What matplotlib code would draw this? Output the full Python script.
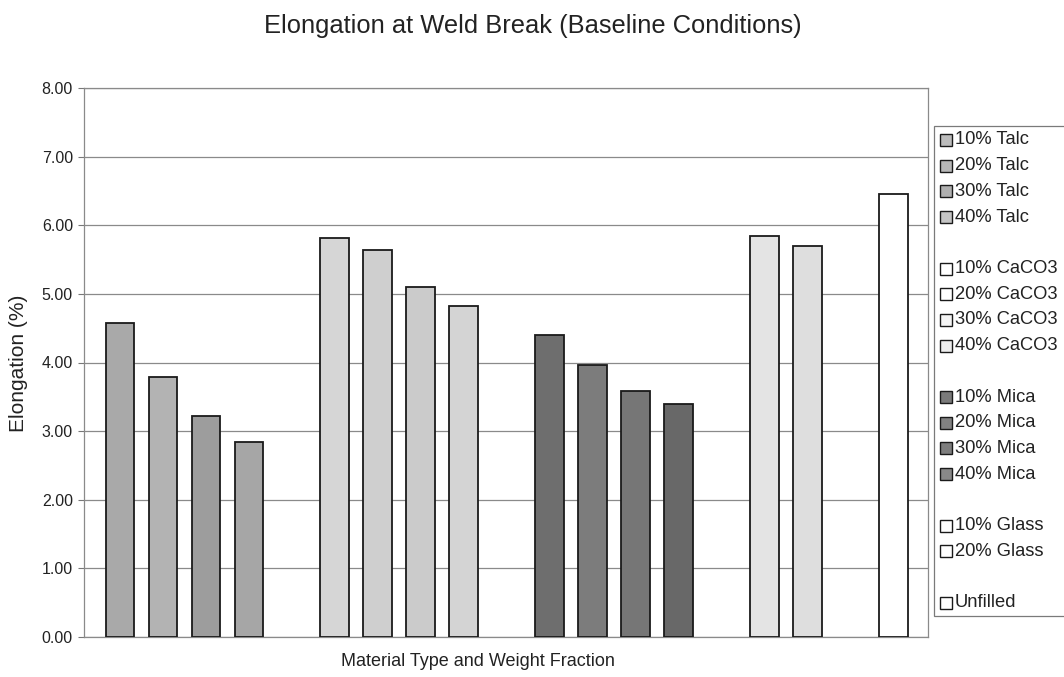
import matplotlib
matplotlib.use("Agg")
import matplotlib.pyplot as plt
from matplotlib.patches import Rectangle

plt.rcParams['font.family'] = ['Liberation Sans', 'DejaVu Sans']

# ---- data ----
groups = ["Talc", "CaCO3", "Mica", "Glass", "Unfilled"]
talc_labels = ["10% Talc", "20% Talc", "30% Talc", "40% Talc"]
talc_values = [4.58, 3.79, 3.22, 2.84]
caco3_labels = ["10% CaCO3", "20% CaCO3", "30% CaCO3", "40% CaCO3"]
caco3_values = [5.82, 5.64, 5.10, 4.83]
mica_labels = ["10% Mica", "20% Mica", "30% Mica", "40% Mica"]
mica_values = [4.40, 3.97, 3.59, 3.39]
glass_labels = ["10% Glass", "20% Glass"]
glass_values = [5.85, 5.70]
unfilled_labels = ["Unfilled"]
unfilled_values = [6.45]

yticks = [0, 1, 2, 3, 4, 5, 6, 7, 8]
title = "Elongation at Weld Break (Baseline Conditions)"
xlabel = "Material Type and Weight Fraction"
ylabel = "Elongation (%)"

# ---- styles ----
colors = {
    "Talc": ["#a9a9a9", "#b3b3b3", "#9d9d9d", "#a6a6a6"],
    "CaCO3": ["#d6d6d6", "#cfcfcf", "#cbcbcb", "#d4d4d4"],
    "Mica": ["#6e6e6e", "#7c7c7c", "#767676", "#686868"],
    "Glass": ["#e4e4e4", "#dedede"],
    "Unfilled": ["#ffffff"],
}
legend_colors = {
    "Talc": ["#bcbcbc", "#b8b8b8", "#b0b0b0", "#c4c4c4"],
    "CaCO3": ["#ffffff", "#ffffff", "#f4f4f4", "#eeeeee"],
    "Mica": ["#7a7a7a", "#828282", "#7e7e7e", "#888888"],
    "Glass": ["#ffffff", "#ffffff"],
    "Unfilled": ["#ffffff"],
}

all_labels = [talc_labels, caco3_labels, mica_labels, glass_labels, unfilled_labels]
all_values = [talc_values, caco3_values, mica_values, glass_values, unfilled_values]

W, H = 1064, 677
fig = plt.figure(figsize=(W / 100, H / 100), dpi=100)
ax = fig.add_axes([84 / W, 1 - 637 / H, (928 - 84) / W, (637 - 88) / H])

pos = 0
for g, labs, vals in zip(groups, all_labels, all_values):
    xs = list(range(pos, pos + len(vals)))
    ax.bar(xs, vals, width=0.67, color=colors[g], edgecolor="#1a1a1a",
           linewidth=1.3, zorder=3)
    pos += len(vals) + 1

ax.set_xlim(-0.84, 18.81)
ax.set_ylim(0, 8)
ax.set_yticks(yticks)
ax.set_yticklabels([f"{v:.2f}" for v in yticks], fontsize=11.5, color="#222222")
ax.set_xticks([])
ax.tick_params(axis="y", length=4, width=0.8, color="#777777", pad=4)
ax.yaxis.grid(True, color="#8a8a8a", linewidth=0.9, zorder=0)
for s in ax.spines.values():
    s.set_color("#8a8a8a")
    s.set_linewidth(0.9)

fig.text(533 / W, 1 - 26 / H, title, ha="center", va="center", fontsize=18.4,
         color="#222222")
fig.text(478 / W, 1 - 662 / H, xlabel, ha="center", va="center", fontsize=13,
         color="#222222")
fig.text(19 / W, 1 - 363 / H, ylabel, ha="center", va="center", fontsize=15,
         rotation=90, color="#222222")

# ---- legend drawn manually ----
fig.patches.append(Rectangle((934 / W, 1 - 616 / H), 140 / W, (616 - 126) / H,
                             transform=fig.transFigure, facecolor="white",
                             edgecolor="#7a7a7a", linewidth=0.9, zorder=5))
row_h = 25.7
row = 0
for g, labs in zip(groups, all_labels):
    for j, lab in enumerate(labs):
        yc = 140 + row * row_h
        fig.patches.append(Rectangle((940 / W, 1 - (yc + 6) / H), 12 / W, 12 / H,
                                     transform=fig.transFigure,
                                     facecolor=legend_colors[g][j],
                                     edgecolor="#1a1a1a", linewidth=1.0, zorder=6))
        fig.text(955 / W, 1 - yc / H, lab, ha="left", va="center", fontsize=13.2,
                 color="#222222", zorder=7)
        row += 1
    row += 1

fig.savefig("out.png", dpi=100)
